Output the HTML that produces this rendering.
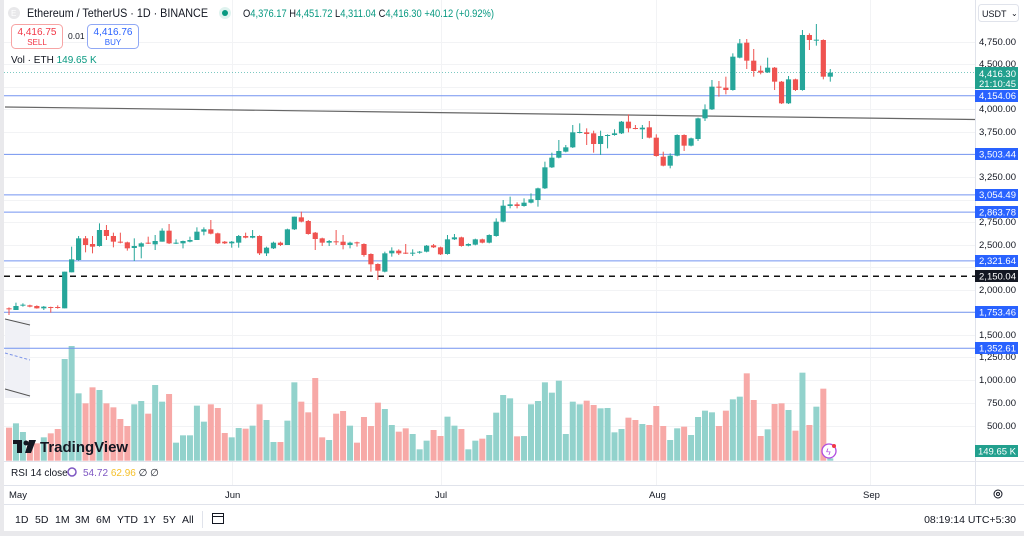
<!DOCTYPE html>
<html><head><meta charset="utf-8">
<style>
html,body{margin:0;padding:0;background:#fff;}
body{width:1024px;height:536px;overflow:hidden;position:relative;font-family:"Liberation Sans",sans-serif;color:#131722;}
svg{position:absolute;left:0;top:0;}
</style></head><body>
<svg id="s" width="1024" height="536" xmlns="http://www.w3.org/2000/svg" font-family="Liberation Sans, sans-serif">
<rect x="0" y="0" width="1024" height="536" fill="#fff"/>
<rect x="0" y="0" width="4" height="536" fill="#e9e9ec"/>
<rect x="0" y="531" width="1024" height="5" fill="#e9e9ec"/>
<g id="grid" stroke="#f2f3f5" stroke-width="1"></g>
<line x1="975.5" y1="0" x2="975.5" y2="505" stroke="#e0e3eb"/>
<line x1="4" y1="461.5" x2="1024" y2="461.5" stroke="#e0e3eb"/>
<line x1="4" y1="485.5" x2="1024" y2="485.5" stroke="#e0e3eb"/>
<line x1="4" y1="504.5" x2="1024" y2="504.5" stroke="#e0e3eb"/>
<rect x="5" y="320" width="25" height="78" fill="#f0f1f6"/>
<line x1="5" y1="319" x2="30" y2="325" stroke="#555" stroke-width="1"/>
<line x1="5" y1="353" x2="30" y2="360" stroke="#7b93e8" stroke-width="1" stroke-dasharray="3,2"/>
<line x1="5" y1="389" x2="30" y2="396" stroke="#555" stroke-width="1"/>
<g id="vol"></g>
<g stroke="#7394f0" stroke-width="1">
<line x1="4" y1="95.7" x2="975" y2="95.7"/>
<line x1="4" y1="154.4" x2="975" y2="154.4"/>
<line x1="4" y1="194.9" x2="975" y2="194.9"/>
<line x1="4" y1="212.1" x2="975" y2="212.1"/>
<line x1="4" y1="260.9" x2="975" y2="260.9"/>
<line x1="4" y1="312.2" x2="975" y2="312.2"/>
<line x1="4" y1="348.3" x2="975" y2="348.3"/>
</g>
<line x1="4" y1="276.3" x2="975" y2="276.3" stroke="#111" stroke-width="1.5" stroke-dasharray="6,5"/>
<line x1="5" y1="107" x2="975" y2="119.5" stroke="#666" stroke-width="1.2"/>
<line x1="4" y1="72.5" x2="975" y2="72.5" stroke="#26a69a" stroke-width="1" stroke-dasharray="1,2" opacity="0.6"/>
<g id="cndl"></g>
<g transform="translate(13,440)">
<rect x="0" y="0" width="9" height="4" fill="#131722"/><rect x="4" y="0" width="5" height="13" fill="#131722"/>
<circle cx="13" cy="3" r="2.5" fill="#131722"/><path d="M16 0 L23 0 L18 13 L12 13 Z" fill="#131722"/>
<text x="27" y="12" font-size="15" font-weight="bold" fill="#131722">TradingView</text>
</g>
<circle cx="14" cy="13" r="6" fill="#e8e8ea"/>
<text x="11" y="16" font-size="8" fill="#fff">E</text>
<text x="27" y="17" font-size="12" fill="#131722" textLength="181" lengthAdjust="spacingAndGlyphs">Ethereum / TetherUS · 1D · BINANCE</text>
<circle cx="225" cy="13" r="6" fill="#dff3ef"/><circle cx="225" cy="13" r="3" fill="#089981"/>
<text x="243" y="17" font-size="11" fill="#131722" textLength="251" lengthAdjust="spacingAndGlyphs">O<tspan fill="#089981">4,376.17</tspan> H<tspan fill="#089981">4,451.72</tspan> L<tspan fill="#089981">4,311.04</tspan> C<tspan fill="#089981">4,416.30</tspan> <tspan fill="#089981">+40.12 (+0.92%)</tspan></text>
<rect x="11.5" y="24.5" width="51" height="24" rx="4" fill="#fff" stroke="#f7a4a4"/>
<text x="37" y="35" font-size="10" fill="#f23645" text-anchor="middle">4,416.75</text>
<text x="37" y="45" font-size="8" fill="#f23645" text-anchor="middle">SELL</text>
<text x="68" y="39" font-size="8.5" fill="#131722">0.01</text>
<rect x="87.5" y="24.5" width="51" height="24" rx="4" fill="#fff" stroke="#90a8f5"/>
<text x="113" y="35" font-size="10" fill="#2962ff" text-anchor="middle">4,416.76</text>
<text x="113" y="45" font-size="8" fill="#2962ff" text-anchor="middle">BUY</text>
<text x="11" y="63" font-size="10" fill="#131722">Vol · ETH <tspan fill="#089981">149.65 K</tspan></text>
<rect x="978.5" y="4.5" width="40" height="17" rx="3" fill="#fff" stroke="#e0e3eb"/>
<text x="982" y="17" font-size="9" fill="#131722">USDT</text>
<text x="1011" y="16" font-size="8" fill="#131722">⌄</text>
<g font-size="9.5" fill="#131722" text-anchor="end" id="ax">
<text x="1016" y="45">4,750.00</text>
<text x="1016" y="67">4,500.00</text>
<text x="1016" y="112">4,000.00</text>
<text x="1016" y="135">3,750.00</text>
<text x="1016" y="180">3,250.00</text>
<text x="1016" y="225">2,750.00</text>
<text x="1016" y="248">2,500.00</text>
<text x="1016" y="293">2,000.00</text>
<text x="1016" y="338">1,500.00</text>
<text x="1016" y="360">1,250.00</text>
<text x="1016" y="383">1,000.00</text>
<text x="1016" y="406">750.00</text>
<text x="1016" y="429">500.00</text>
</g>
<g font-size="9.5" text-anchor="end" fill="#fff">
<rect x="975" y="67" width="43" height="22" fill="#22a08e"/>
<text x="1016" y="77">4,416.30</text><text x="1016" y="87">21:10:45</text>
<rect x="975" y="90" width="43" height="12" fill="#2962ff"/><text x="1016" y="99">4,154.06</text>
<rect x="975" y="148" width="43" height="12" fill="#2962ff"/><text x="1016" y="157.5">3,503.44</text>
<rect x="975" y="189" width="43" height="12" fill="#2962ff"/><text x="1016" y="198">3,054.49</text>
<rect x="975" y="206" width="43" height="12" fill="#2962ff"/><text x="1016" y="215.5">2,863.78</text>
<rect x="975" y="255" width="43" height="12" fill="#2962ff"/><text x="1016" y="264">2,321.64</text>
<rect x="975" y="270" width="43" height="12" fill="#131722"/><text x="1016" y="279.5">2,150.04</text>
<rect x="975" y="306" width="43" height="12" fill="#2962ff"/><text x="1016" y="315.5">1,753.46</text>
<rect x="975" y="342" width="43" height="12" fill="#2962ff"/><text x="1016" y="351.5">1,352.61</text>
<rect x="975" y="445" width="43" height="12" fill="#22a08e"/><text x="1016" y="454.5">149.65 K</text>
</g>
<text x="11" y="476" font-size="10" fill="#131722">RSI 14 close</text>
<circle cx="72" cy="472" r="4" fill="none" stroke="#7e57c2" stroke-width="1.5"/>
<text x="83" y="476" font-size="10"><tspan fill="#7e57c2">54.72</tspan> <tspan fill="#f5c02a">62.96</tspan> <tspan fill="#131722">∅ ∅</tspan></text>
<circle cx="829" cy="451" r="7" fill="#fff" stroke="#b04ce0" stroke-width="1.3"/>
<text x="826" y="455" font-size="9" fill="#b04ce0">ϟ</text>
<circle cx="834" cy="446" r="2" fill="#f23645"/>
<g font-size="9.5" fill="#131722">
<text x="9" y="498">May</text><text x="225" y="498">Jun</text><text x="435" y="498">Jul</text><text x="649" y="498">Aug</text><text x="863" y="498">Sep</text>
</g>
<circle cx="998" cy="494" r="4" fill="none" stroke="#131722" stroke-width="1"/><circle cx="998" cy="494" r="1.5" fill="none" stroke="#131722"/>
<g font-size="10.5" fill="#131722">
<text x="15" y="523">1D</text><text x="35" y="523">5D</text><text x="55" y="523">1M</text><text x="75" y="523">3M</text><text x="96" y="523">6M</text><text x="117" y="523">YTD</text><text x="143" y="523">1Y</text><text x="163" y="523">5Y</text><text x="182" y="523">All</text>
<text x="1016" y="523" text-anchor="end">08:19:14 UTC+5:30</text>
</g>
<line x1="202.5" y1="511" x2="202.5" y2="528" stroke="#e0e3eb"/>
<rect x="212.5" y="513.5" width="11" height="10" fill="none" stroke="#131722"/>
<line x1="212" y1="516.5" x2="224" y2="516.5" stroke="#131722"/>
</svg>
<script>
var NS="http://www.w3.org/2000/svg";
function el(p,t,a){var e=document.createElementNS(NS,t);for(var k in a)e.setAttribute(k,a[k]);p.appendChild(e);return e;}
var G="#26a69a",R="#ef5350";
var grid=document.getElementById('grid');
[42,64,87,109,132,154,177,200,222,245,267,290,312,335,357,380,403,426].forEach(function(y){el(grid,'line',{x1:4,y1:y+.5,x2:975,y2:y+.5});});
[232,441,656,870].forEach(function(x){el(grid,'line',{x1:x+.5,y1:0,x2:x+.5,y2:485});});
var g1=[[355,357,352,375,'r'],[348,360,338,360,'g'],[344,346,340,350,'g'],[346,350,344,352,'r'],[348,355,346,356,'r'],[350,355,348,360,'g'],[351,353,350,368,'r'],[351,353,346,356,'r'],[245,355,245,355,'g'],[208,247,170,247,'g'],[145,210,138,212,'g'],[145,165,138,187,'r'],[162,170,138,190,'r'],[120,168,100,170,'g'],[120,138,105,150,'r'],[138,155,128,172,'r'],[155,158,128,160,'r'],[157,175,155,182,'r'],[168,174,145,213,'g'],[160,170,157,205,'g'],[158,160,140,162,'r'],[153,163,135,180,'g'],[122,155,115,155,'g'],[122,160,102,162,'r'],[158,160,148,162,'g'],[153,160,152,175,'g'],[150,155,140,157,'g'],[125,150,112,150,'g'],[118,125,112,136,'g'],[118,131,90,133,'r'],[130,160,128,162,'r'],[155,160,153,162,'r'],[155,160,153,173,'g'],[138,158,135,173,'g'],[138,143,128,145,'r'],[138,143,120,145,'g'],[138,190,136,195,'r'],[173,190,170,198,'g'],[158,175,155,177,'g'],[158,165,155,168,'r'],[118,165,116,165,'g'],[80,118,80,120,'g'],[82,95,65,97,'r']];
var g2=[[333,372,330,374,'r'],[368,387,366,420,'r'],[385,398,383,408,'r'],[393,398,390,408,'g'],[394,396,360,405,'r'],[395,405,375,418,'r'],[398,405,395,415,'g'],[397,399,395,410,'r'],[402,435,400,440,'r'],[432,463,430,485,'r'],[462,482,460,510,'r'],[430,485,425,487,'g'],[422,430,412,440,'g'],[422,430,418,435,'r'],[428,430,402,432,'r'],[428,430,418,438,'g'],[425,428,423,431,'g'],[407,425,405,427,'g'],[406,412,402,414,'r'],[412,433,410,435,'r'],[388,432,375,434,'g'],[382,388,372,390,'g'],[382,408,380,410,'r'],[402,407,400,409,'g'],[388,404,386,406,'g'],[388,398,386,400,'r'],[375,398,373,400,'g'],[335,378,325,380,'g'],[287,335,270,337,'g'],[283,288,260,295,'g'],[283,288,277,295,'r'],[278,288,265,290,'g'],[268,278,250,280,'g'],[235,270,233,290,'g'],[172,235,155,237,'g'],[143,172,128,174,'g'],[123,143,90,145,'g'],[112,125,105,127,'g'],[67,112,45,114,'g'],[66,68,40,70,'g'],[67,72,55,105,'r'],[70,102,62,128,'r'],[78,102,62,135,'g'],[75,78,73,115,'g'],[70,75,58,77,'g'],[35,70,33,72,'g']];
var g3=[[320,340,298,352,'r'],[339,341,330,343,'r'],[338,343,330,372,'g'],[337,368,318,370,'r'],[368,423,358,425,'r'],[425,452,410,454,'r'],[422,452,415,460,'g'],[360,422,358,424,'g'],[360,392,358,408,'r'],[370,392,368,394,'g'],[310,372,308,378,'g'],[283,310,268,318,'g'],[215,283,195,285,'g'],[215,217,198,245,'r'],[218,225,185,238,'r'],[125,225,115,227,'g'],[85,128,72,130,'g'],[83,137,72,162,'r'],[137,168,102,185,'r'],[167,173,152,178,'r'],[158,172,128,174,'g'],[158,200,156,225,'r'],[200,265,198,267,'r'],[193,265,183,267,'g'],[193,225,191,228,'r'],[60,225,45,227,'g'],[60,75,55,105,'r'],[74,76,27,92,'g'],[75,185,73,193,'r'],[173,185,162,200,'g']];
var C=[];
g1.forEach(function(c){C.push([190+c[0]/3,190+c[1]/3,190+c[2]/3,190+c[3]/3,c[4]]);});
g2.forEach(function(c){C.push([110+c[0]/3,110+c[1]/3,110+c[2]/3,110+c[3]/3,c[4]]);});
g3.forEach(function(c){C.push([15+c[0]/3,15+c[1]/3,15+c[2]/3,15+c[3]/3,c[4]]);});
var V=[[263,'r'],[250,'g'],[276,'g'],[320,'r'],[310,'r'],[292,'g'],[280,'r'],[267,'r'],[57,'g'],[18,'g'],[160,'g'],[190,'r'],[142,'r'],[150,'g'],[190,'r'],[202,'r'],[237,'r'],[258,'r'],[193,'g'],[183,'g'],[221,'r'],[135,'g'],[185,'g'],[162,'r'],[308,'g'],[286,'g'],[286,'g'],[197,'g'],[245,'g'],[193,'r'],[204,'r'],[279,'r'],[292,'g'],[264,'g'],[266,'r'],[257,'g'],[193,'r'],[240,'g'],[306,'g'],[306,'r'],[242,'g'],[127,'g'],[185,'r'],[217,'r'],[114,'r'],[292,'r'],[300,'g'],[221,'r'],[213,'r'],[257,'g'],[308,'r'],[231,'r'],[258,'r'],[188,'r'],[207,'g'],[255,'g'],[275,'r'],[265,'r'],[282,'g'],
[328,'g'],[302,'g'],[270,'r'],[288,'r'],[230,'g'],[257,'g'],[267,'r'],[328,'g'],[302,'g'],[296,'r'],[285,'g'],[218,'g'],[165,'g'],[175,'g'],[289,'r'],[288,'g'],[193,'g'],[183,'g'],[127,'g'],[158,'g'],[122,'g'],[282,'g'],[185,'g'],[193,'g'],[182,'r'],[195,'r'],[205,'g'],[204,'g'],[277,'g'],[267,'g'],[233,'r'],[240,'r'],[252,'g'],[255,'r'],[198,'r'],[258,'r'],[300,'g'],[265,'g'],[260,'r'],[285,'g'],[231,'g'],[212,'g'],[217,'g'],[258,'r'],[212,'r'],[178,'g'],[170,'g'],[100,'r'],[180,'r'],[288,'r'],[268,'g'],[192,'r'],[190,'r'],[210,'g'],[272,'r'],[98,'g'],[255,'r'],[200,'g'],[146,'r'],[355,'g']];
var vg=document.getElementById('vol');
V.forEach(function(v,i){var x=9+i*6.96;var top=340+v[0]/3;
el(vg,'rect',{x:(x-3).toFixed(2),y:top.toFixed(2),width:6,height:(460.7-top).toFixed(2),fill:v[1]=='g'?'#92d2cc':'#f7a9a7'});});
var cg=document.getElementById('cndl');
C.forEach(function(c,i){var x=9+i*6.96;var col=c[4]=='g'?G:R;
el(cg,'line',{x1:x,y1:c[2],x2:x,y2:c[3],stroke:col,'stroke-width':1});
var h=Math.max(1,c[1]-c[0]);
el(cg,'rect',{x:(x-2.6).toFixed(2),y:c[0].toFixed(2),width:5.2,height:h.toFixed(2),fill:col});});
</script>
</body></html>
